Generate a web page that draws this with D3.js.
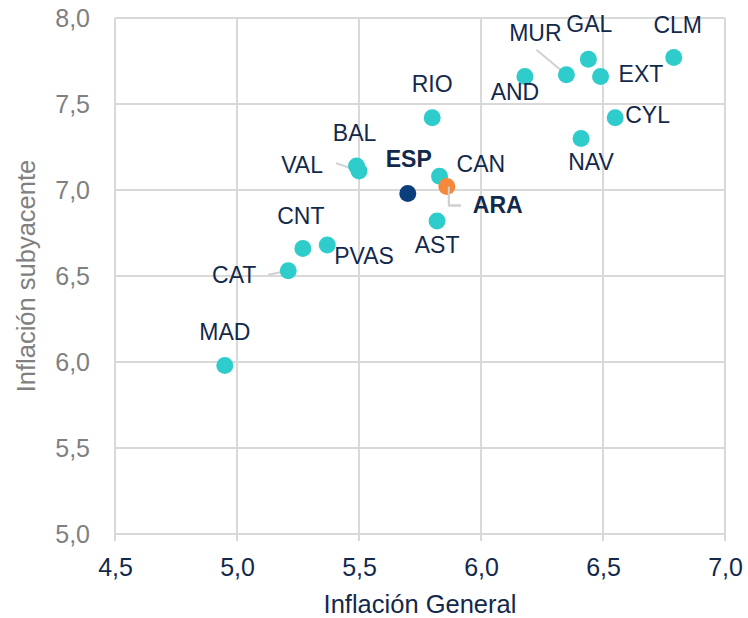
<!DOCTYPE html>
<html>
<head>
<meta charset="utf-8">
<script src="https://cdn.jsdelivr.net/npm/d3@7"></script>
<style>
  body { margin: 0; background: #fff; }
  text { font-family: "Liberation Sans", Arial, sans-serif; }
</style>
</head>
<body>
<div id="chart"></div>
<script>
// regions and their values
const regions    = ["MAD", "CAT", "CNT", "PVAS", "BAL", "VAL", "ESP", "RIO", "CAN", "ARA", "AST", "AND", "MUR", "GAL", "EXT", "NAV", "CYL", "CLM"]
const general    = [4.95, 5.21, 5.27, 5.37, 5.49, 5.50, 5.70, 5.80, 5.83, 5.86, 5.82, 6.18, 6.35, 6.44, 6.49, 6.41, 6.55, 6.79]
const subyacente = [5.98, 6.53, 6.66, 6.68, 7.14, 7.11, 6.98, 7.42, 7.08, 7.02, 6.82, 7.66, 7.67, 7.76, 7.66, 7.30, 7.42, 7.77]
const xTicks = [4.5, 5.0, 5.5, 6.0, 6.5, 7.0]
const yTicks = [5.0, 5.5, 6.0, 6.5, 7.0, 7.5, 8.0]

const datapoints = regions.map((r, i) => ({ region: r, general: general[i], subyacente: subyacente[i] }))

// label placement: offset from the dot, anchor, and an optional leader line
const labelPos = {
  MAD:  { dx: 0,   dy: -25, anchor: "middle" },
  CAT:  { dx: -54, dy: 12,  anchor: "middle", line: [[-20, 4], [0, 0]] },
  CNT:  { dx: -2,  dy: -24, anchor: "middle" },
  PVAS: { dx: 7,   dy: 19,  anchor: "start" },
  BAL:  { dx: -2,  dy: -25, anchor: "middle" },
  VAL:  { dx: -36, dy: 2,   anchor: "end", line: [[-23, -8], [0, 0]] },
  ESP:  { dx: 1,   dy: -26, anchor: "middle", bold: true },
  RIO:  { dx: 0,   dy: -26, anchor: "middle" },
  CAN:  { dx: 17,  dy: -4,  anchor: "start" },
  ARA:  { dx: 26,  dy: 26,  anchor: "start", bold: true, line: [[2, 0], [2, 19], [14, 19]] },
  AST:  { dx: 0,   dy: 32,  anchor: "middle" },
  AND:  { dx: -10, dy: 24,  anchor: "middle" },
  MUR:  { dx: -31, dy: -34, anchor: "middle", line: [[-30, -25], [0, 0]] },
  GAL:  { dx: 1,   dy: -27, anchor: "middle" },
  EXT:  { dx: 18,  dy: 6,   anchor: "start" },
  NAV:  { dx: 10,  dy: 32,  anchor: "middle" },
  CYL:  { dx: 10,  dy: 5,   anchor: "start" },
  CLM:  { dx: 4,   dy: -25, anchor: "middle" }
}

const margin = { top: 18, right: 23, bottom: 84, left: 115 }
const width = 748 - margin.left - margin.right
const height = 618 - margin.top - margin.bottom

const svg = d3.select("#chart").append("svg")
    .attr("width", width + margin.left + margin.right)
    .attr("height", height + margin.top + margin.bottom)
    .append("g")
    .attr("transform", "translate(" + margin.left + "," + margin.top + ")")

const xPositionScale = d3.scaleLinear()
  .domain([4.5, 7.0])
  .range([0, width])

const yPositionScale = d3.scaleLinear()
  .domain([5.0, 8.0])
  .range([height, 0])

const fmt = d => d3.format(".1f")(d).replace(".", ",")

// grid
svg.append("g")
  .selectAll("line")
  .data(xTicks)
  .enter().append("line")
  .attr("x1", d => xPositionScale(d))
  .attr("x2", d => xPositionScale(d))
  .attr("y1", 0)
  .attr("y2", height + 7)
  .attr("stroke", "#d9d9d9")
  .attr("stroke-width", 2)

svg.append("g")
  .selectAll("line")
  .data(yTicks)
  .enter().append("line")
  .attr("x1", 0)
  .attr("x2", width)
  .attr("y1", d => yPositionScale(d))
  .attr("y2", d => yPositionScale(d))
  .attr("stroke", "#d9d9d9")
  .attr("stroke-width", 2)

// axes (labels only, grid drawn above)
const xAxis = d3.axisBottom(xPositionScale).tickValues(xTicks).tickFormat(fmt).tickSize(0).tickPadding(24)
svg.append("g")
  .attr("class", "axis x-axis")
  .attr("transform", "translate(0," + height + ")")
  .call(xAxis)
  .call(g => g.select(".domain").remove())
  .call(g => g.selectAll("text")
    .attr("fill", "#13294b")
    .style("font-size", "25px")
    .style("font-family", "Liberation Sans, Arial, sans-serif"))

const yAxis = d3.axisLeft(yPositionScale).tickValues(yTicks).tickFormat(fmt).tickSize(0).tickPadding(25)
svg.append("g")
  .attr("class", "axis y-axis")
  .call(yAxis)
  .call(g => g.select(".domain").remove())
  .call(g => g.selectAll("text")
    .attr("fill", "#808080")
    .style("font-size", "25px")
    .style("font-family", "Liberation Sans, Arial, sans-serif"))

// axis titles
svg.append("text")
  .attr("x", width / 2)
  .attr("y", height + 79)
  .attr("text-anchor", "middle")
  .attr("fill", "#13294b")
  .style("font-size", "25.5px")
  .text("Inflación General")

svg.append("text")
  .attr("transform", "rotate(-90)")
  .attr("x", -height / 2)
  .attr("y", -80)
  .attr("text-anchor", "middle")
  .attr("fill", "#808080")
  .style("font-size", "25.5px")
  .text("Inflación subyacente")

// leader lines
svg.append("g")
  .selectAll("path")
  .data(datapoints.filter(d => labelPos[d.region].line))
  .enter().append("path")
  .attr("d", d => {
    const cx = xPositionScale(d.general)
    const cy = yPositionScale(d.subyacente)
    return d3.line()(labelPos[d.region].line.map(p => [cx + p[0], cy + p[1]]))
  })
  .attr("fill", "none")
  .attr("stroke", "#d0d0d0")
  .attr("stroke-width", 2)

const dotColor = d => d.region === "ESP" ? "#0b3f7b" : d.region === "ARA" ? "#f5893b" : "#2ecdcc"

// dots, ARA on top
svg.append("g")
  .selectAll("circle")
  .data(datapoints.slice().sort((a, b) => (a.region === "ARA") - (b.region === "ARA")))
  .enter().append("circle")
  .attr("r", 8.5)
  .attr("cx", d => xPositionScale(d.general))
  .attr("cy", d => yPositionScale(d.subyacente))
  .attr("fill", dotColor)

// ARA leader starts on top of its dot
svg.append("path")
  .datum(datapoints.find(d => d.region === "ARA"))
  .attr("d", d => {
    const cx = xPositionScale(d.general)
    const cy = yPositionScale(d.subyacente)
    return d3.line()(labelPos.ARA.line.map(p => [cx + p[0], cy + p[1]]))
  })
  .attr("fill", "none")
  .attr("stroke", "#d0d0d0")
  .attr("stroke-width", 2)

// labels
svg.append("g")
  .selectAll("text")
  .data(datapoints)
  .enter().append("text")
  .attr("x", d => xPositionScale(d.general) + labelPos[d.region].dx)
  .attr("y", d => yPositionScale(d.subyacente) + labelPos[d.region].dy)
  .attr("text-anchor", d => labelPos[d.region].anchor)
  .attr("fill", "#13294b")
  .style("font-size", "23px")
  .style("font-weight", d => labelPos[d.region].bold ? "bold" : "normal")
  .text(d => d.region)
</script>
</body>
</html>
